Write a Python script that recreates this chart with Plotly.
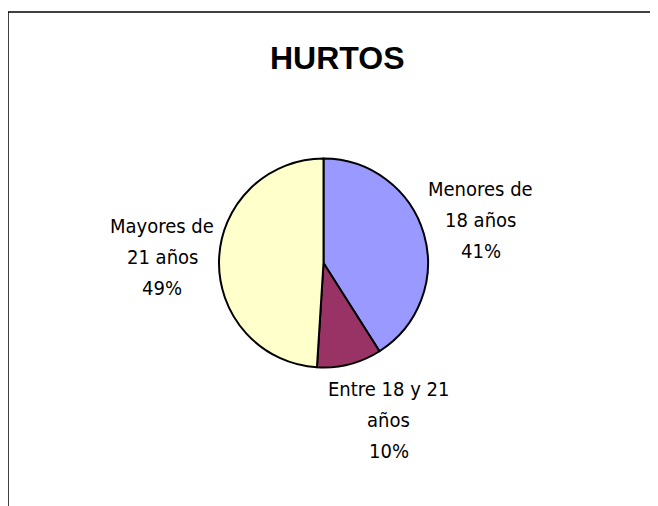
import plotly.graph_objects as go

categories = ["Menores de<br>18 años", "Entre 18 y 21<br>años", "Mayores de<br>21 años"]
values = [41, 10, 49]
colors = ["#9999FF", "#993366", "#FFFFCC"]
title_text = "HURTOS"

# page body has an 8px margin, so the figure is drawn 8px smaller and shifted
OFF = 8
W, H = 658 - OFF, 506 - OFF


def px(x):
    return (x - OFF) / W


def py(y):
    return 1 - (y - OFF) / H


cx, cy, d = 323.5, 263, 209

fig = go.Figure(go.Pie(
    labels=categories,
    values=values,
    sort=False,
    direction="clockwise",
    rotation=0,
    marker=dict(colors=colors, line=dict(color="black", width=2)),
    textinfo="none",
    showlegend=False,
    hoverinfo="skip",
    domain=dict(x=[px(cx - d / 2), px(cx + d / 2)], y=[py(cy + d / 2), py(cy - d / 2)]),
))

total = sum(values)
# centre x and middle-line y of each label block, and line pitch (Excel style spacing)
label_pos = [(481, 220), (388.5, 420), (162, 257)]
pitch = 31
label_font = dict(family="DejaVu Sans Condensed, Liberation Sans Narrow, sans-serif", size=20, color="black")
annotations = [dict(
    text="<b>" + title_text + "</b>", x=px(337), y=py(58), xref="paper", yref="paper",
    xanchor="center", yanchor="middle", showarrow=False,
    font=dict(family="Liberation Sans, Arial, sans-serif", size=32, color="black"),
)]
for cat, v, (lx, ly) in zip(categories, values, label_pos):
    lines = cat.split("<br>") + [f"{round(v / total * 100)}%"]
    for i, line in enumerate(lines):
        annotations.append(dict(
            text=line, x=px(lx), y=py(ly + (i - 1) * pitch), xref="paper", yref="paper",
            xanchor="center", yanchor="middle", align="center", showarrow=False, font=label_font,
        ))

fig.update_layout(
    width=W, height=H,
    margin=dict(l=0, r=0, t=0, b=0),
    paper_bgcolor="white",
    plot_bgcolor="white",
    annotations=annotations,
    shapes=[
        dict(type="line", xref="paper", yref="paper", x0=px(8), x1=1.02, y0=py(12), y1=py(12),
             line=dict(color="black", width=1.5)),
        dict(type="line", xref="paper", yref="paper", x0=px(8), x1=px(8), y0=py(12), y1=-0.02,
             line=dict(color="black", width=1.5)),
    ],
)

fig.write_html("out.html")
